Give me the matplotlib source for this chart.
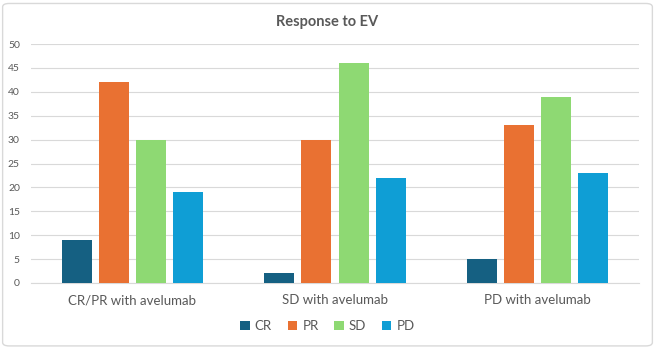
import numpy as np
import matplotlib.pyplot as plt
from matplotlib.patches import FancyBboxPatch

groups = ['CR/PR with avelumab', 'SD with avelumab', 'PD with avelumab']
series = ['CR', 'PR', 'SD', 'PD']
cr = [9, 2, 5]
pr = [42, 30, 33]
sd = [30, 46, 39]
pd_ = [19, 22, 23]
colors = ['#156082', '#E97132', '#8ED973', '#0F9ED5']

plt.rcParams['font.family'] = ['Lato', 'DejaVu Sans']

fig = plt.figure(figsize=(6.55, 3.48), dpi=100)
ax = fig.add_axes([31 / 655, 1 - 283 / 348, 608 / 655, 239 / 348])

# rounded light border around the whole chart
fig.patches.append(FancyBboxPatch((0.004, 0.006), 0.992, 0.984, boxstyle='round,pad=0,rounding_size=0.01',
                                  transform=fig.transFigure, fill=False, edgecolor='#D9D9D9', linewidth=1))

x = np.arange(len(groups))
width = 0.148
step = 0.183
for i, (name, vals) in enumerate(zip(series, [cr, pr, sd, pd_])):
    ax.bar(x + (i - 1.5) * step, vals, width, color=colors[i], label=name, zorder=3)

ax.set_xlim(-0.5, 2.5)
ax.set_ylim(0, 50)
ax.set_yticks(np.arange(0, 51, 5))
ax.grid(axis='y', color='#D9D9D9', linewidth=0.8, zorder=0)
for s in ['top', 'right', 'left']:
    ax.spines[s].set_visible(False)
ax.spines['bottom'].set_color('#D9D9D9')
ax.tick_params(axis='y', length=0, labelsize=7.5, labelcolor='#595959', pad=8)
ax.tick_params(axis='x', length=0, labelsize=9.5, labelcolor='#595959', pad=8)
ax.set_xticks(x)
ax.set_xticklabels(groups)

fig.text(0.5, 1 - 22 / 348, 'Response to EV', ha='center', va='center', fontsize=10.5,
         fontweight='bold', color='#595959')

fig.legend(loc='center', bbox_to_anchor=(0.5, 1 - 326 / 348), ncol=4, frameon=False,
           fontsize=9.5, labelcolor='#595959', handlelength=0.7, handleheight=0.7,
           handletextpad=0.4, columnspacing=1.2)

plt.savefig('out.png', dpi=100)
